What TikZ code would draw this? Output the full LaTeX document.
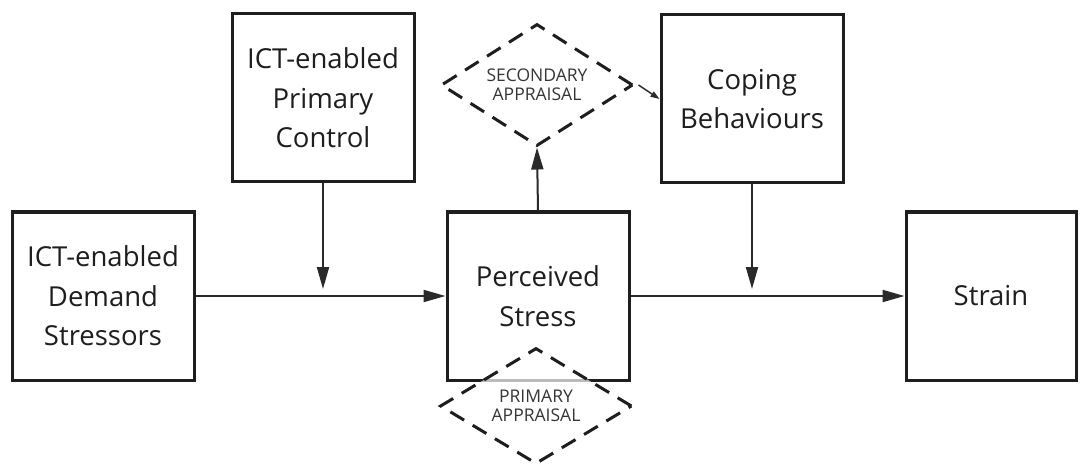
\documentclass[tikz,border=0pt]{standalone}
\usepackage{fontspec}
\setmainfont{Open Sans}
\usetikzlibrary{shapes.geometric,arrows.meta}
\definecolor{ink}{HTML}{1E1E1E}
\definecolor{wire}{HTML}{2A2A2A}
\begin{document}
\begin{tikzpicture}[x=1pt,y=-1pt,
  box/.style={draw=ink, line width=3pt, minimum width=182pt, minimum height=168pt,
    inner sep=0pt, align=center, text=ink, font=\fontsize{27.5}{39.5}\selectfont},
  appraisal/.style={diamond, draw=ink, line width=3pt, dash pattern=on 16pt off 10pt,
    inner sep=0pt, shape aspect=1.57, minimum width=192pt, align=center,
    text=ink!90, font=\fontsize{17.5}{19}\selectfont},
  flow/.style={draw=wire, line width=2pt, -{Triangle[length=22pt,width=12pt]}},
  thin flow/.style={draw=wire, line width=1.5pt, -{Triangle[length=9pt,width=6pt]}}]
\useasboundingbox (0,0) rectangle (1081,465);

% boxes
\node[box] (demand)  at (103,296) {ICT-enabled\\Demand\\Stressors};
\node[box] (control) at (323,98)  {ICT-enabled\\Primary\\Control};
\node[box] (stress)  at (538,296) {Perceived\\Stress};
\node[box] (coping)  at (752,99)  {Coping\\Behaviours};
\node[box, minimum width=170pt] (strain) at (991,296) {Strain};

% appraisal diamonds
\node[appraisal, minimum height=122pt] (secondary) at (537,85) {SECONDARY\\APPRAISAL};
\node[appraisal, minimum height=116pt, fill=white, fill opacity=0.7, text opacity=1]
  (primary) at (536,406) {PRIMARY\\APPRAISAL};

% points where the moderating arrows meet the main paths
\coordinate (m1) at (323,289);
\coordinate (m2) at (752,289);

% connectors
\draw[flow] (demand) -- (stress);
\draw[flow] (stress) -- (strain);
\draw[flow] (control.south) -- (m1);
\draw[flow] (coping.south) -- (m2);
\draw[flow] (stress.north) -- (secondary.south);
\draw[thin flow] ([xshift=4pt]secondary.east) -- (coping.west);
\end{tikzpicture}
\end{document}
